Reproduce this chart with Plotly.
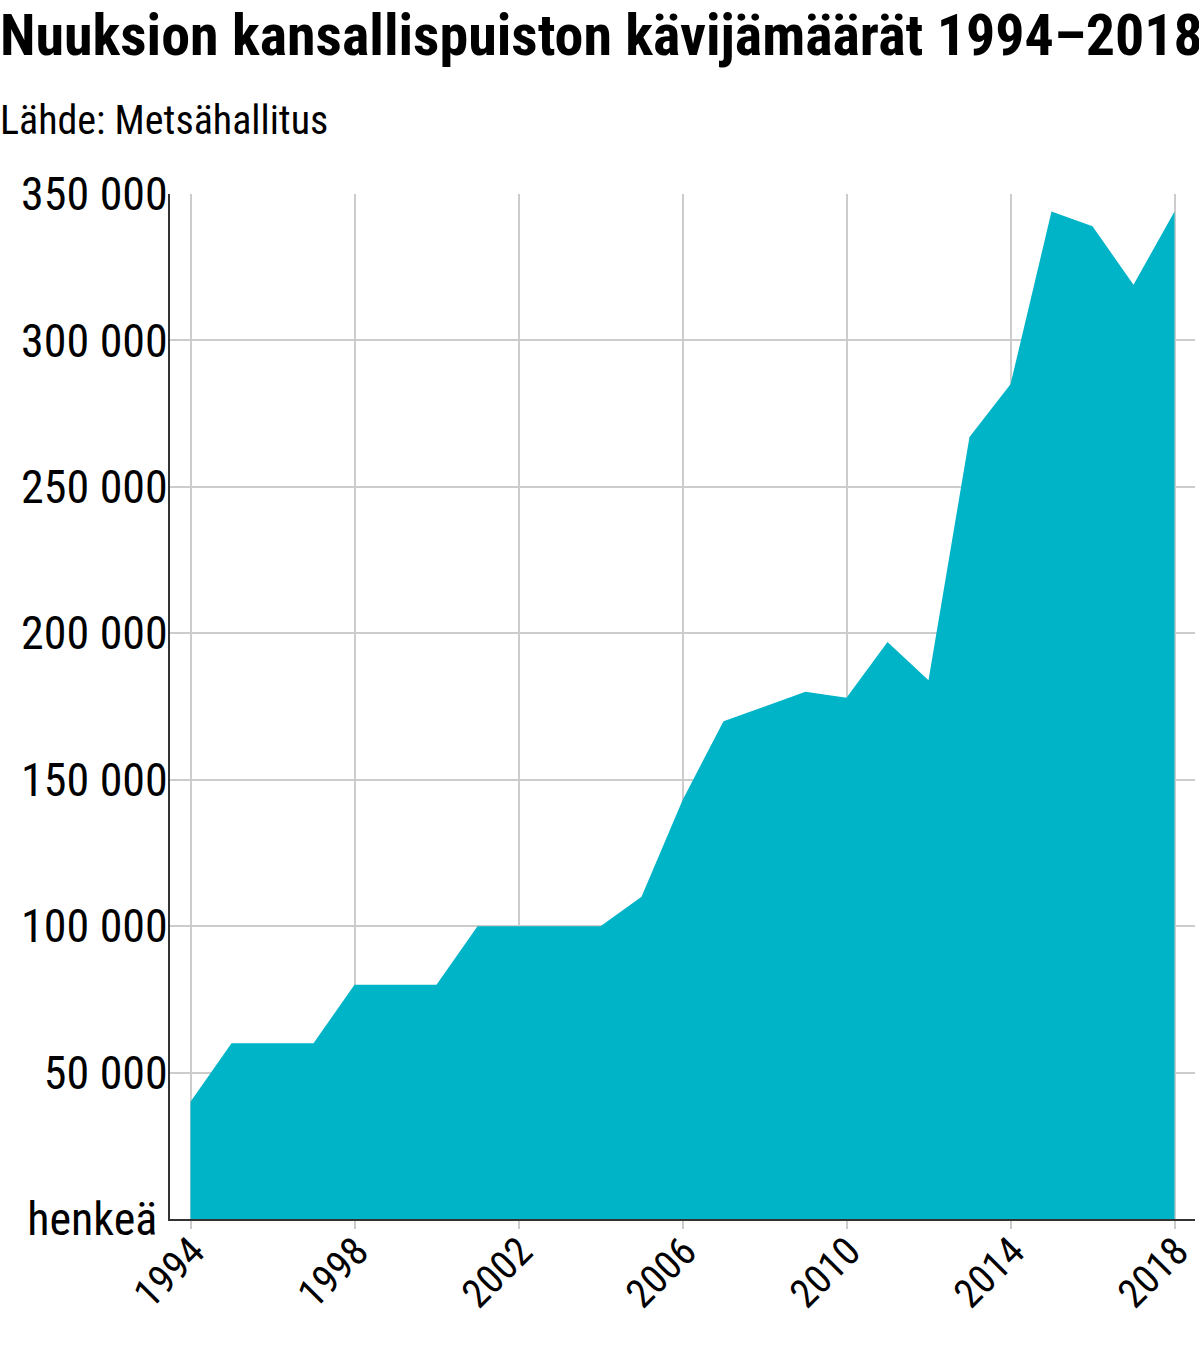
import plotly.graph_objects as go

# visitor counts =============================
years = list(range(1994, 2019))
visitors = [40000, 60000, 60000, 60000, 80000, 80000, 80000, 100000, 100000, 100000,
            100000, 110000, 143000, 170000, 175000, 180000, 178000, 197000, 184000,
            267000, 285000, 344000, 339000, 319000, 344000]

y_ticks = [0, 50000, 100000, 150000, 200000, 250000, 300000, 350000]
y_labels = ["henkeä\u00a0", "50 000", "100 000", "150 000", "200 000", "250 000", "300 000", "350 000"]
x_ticks = [1994, 1998, 2002, 2006, 2010, 2014, 2018]

title = "Nuuksion kansallispuiston kävijämäärät 1994–2018"
source = "Lähde: Metsähallitus"

FONT = "Roboto Condensed, Liberation Sans Narrow, Roboto, sans-serif"

W, H = 1199, 1354
L, T, R, B = 170, 194, 4, 135
plot_w = W - L - R
plot_h = H - T - B

fig = go.Figure(go.Scatter(
    x=years, y=visitors,
    mode="lines", fill="tozeroy",
    line=dict(width=0, color="#00b4c8"),
    fillcolor="#00b4c8",
    hoverinfo="x+y",
))

fig.update_layout(
    width=W, height=H,
    margin=dict(l=L, r=R, t=T, b=B),
    paper_bgcolor="white", plot_bgcolor="white",
    font=dict(family=FONT, color="black", size=40),
    showlegend=False,
    annotations=[
        dict(text="<b>" + title + "</b>", xref="paper", yref="paper",
             x=-(L + 2) / plot_w, y=(plot_h + T - 35) / plot_h,
             xanchor="left", yanchor="middle",
             showarrow=False, font=dict(size=58, family=FONT)),
        dict(text=source, xref="paper", yref="paper",
             x=-(L + 2) / plot_w, y=(plot_h + T - 121) / plot_h,
             xanchor="left", yanchor="middle",
             showarrow=False, font=dict(size=40, family=FONT)),
    ],
)

fig.update_xaxes(
    range=[1993.5, 2018.5],
    tickvals=x_ticks, tickangle=-45,
    ticks="outside", ticklen=8, tickcolor="#cccccc", tickwidth=2,
    showgrid=True, gridcolor="#cccccc", gridwidth=1.5,
    showline=True, linecolor="#333333", linewidth=2,
    ticklabelstandoff=-17, ticklabelshift=2, ticklabeloverflow="allow",
    automargin=False,
    tickfont=dict(size=40),
)
fig.update_yaxes(
    range=[0, 350000],
    tickvals=y_ticks, ticktext=y_labels,
    showgrid=True, gridcolor="#cccccc", gridwidth=1.5,
    showline=True, linecolor="#333333", linewidth=2,
    zeroline=False, ticks="", ticklabelstandoff=-9,
    automargin=False,
    tickfont=dict(size=46),
)

# drop the default page margin so the figure starts at the window corner
fig.write_html("out.html", config={"displayModeBar": False},
               post_script="document.body.style.margin='0';")
